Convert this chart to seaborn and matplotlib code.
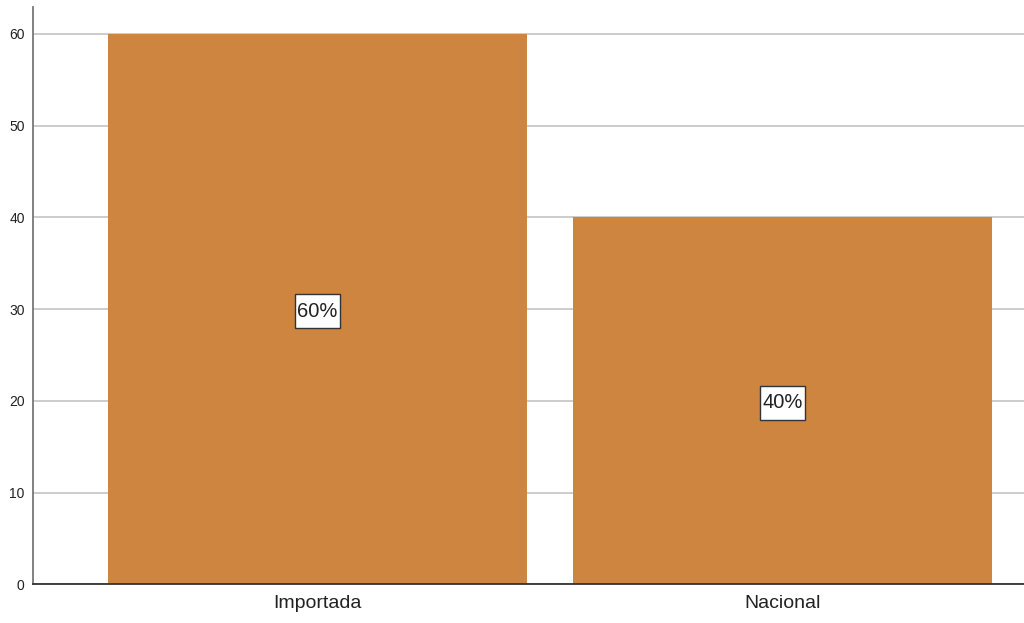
import matplotlib
matplotlib.use("Agg")
import matplotlib.pyplot as plt
from matplotlib.path import Path
import seaborn as sns
import pandas as pd

categories = ["Importada", "Nacional"]
percentages = [60, 40]
yticks = [0, 10, 20, 30, 40, 50, 60]

df = pd.DataFrame({"origen": categories, "porcentaje": percentages})

sns.set_theme(style="white")
plt.rcParams["font.family"] = ["Liberation Sans", "DejaVu Sans"]

fig = plt.figure(figsize=(10.24, 6.23), dpi=100)
ax = fig.add_axes([33 / 1024, (623 - 584.3) / 623, 1 - 33 / 1024, (584.3 - 7.3) / 623])

sns.barplot(data=df, x="origen", y="porcentaje", color="#CD853F", saturation=1,
            width=0.9, ax=ax, zorder=2, edgecolor="none")

ax.set_ylim(0, 62.9)
ax.set_xlim(-0.612, 1.519)
ax.set_yticks(yticks)
ax.yaxis.grid(True, color="#c8c8c8", linewidth=1.3, zorder=0)
ax.set_axisbelow(True)
ax.tick_params(axis="y", length=0, labelsize=10, colors="#222222", pad=6)
ax.tick_params(axis="x", length=0, labelsize=14, colors="#222222", pad=8)
ax.set_xlabel("")
ax.set_ylabel("")

for side in ["top", "right"]:
    ax.spines[side].set_visible(False)
ax.spines["left"].set_color("#777777")
ax.spines["left"].set_linewidth(1.3)
ax.spines["bottom"].set_color("#333333")
ax.spines["bottom"].set_linewidth(1.3)


def label_box(x0, y0, width, height, mutation_size):
    # rectangular frame with tighter horizontal than vertical padding
    px = 0.12 * mutation_size
    py = 0.36 * mutation_size
    x0, x1 = x0 - px, x0 + width + px
    y0, y1 = y0 - py, y0 + height + py
    return Path([(x0, y0), (x1, y0), (x1, y1), (x0, y1), (x0, y0)], closed=True)


for i, v in enumerate(percentages):
    ax.text(i, v / 2, f"{v}%", ha="center", va="center_baseline", fontsize=14.5,
            color="#222222", zorder=3,
            bbox=dict(boxstyle=label_box, facecolor="white",
                      edgecolor="#333333", linewidth=1))

fig.savefig("out.png", dpi=100)
